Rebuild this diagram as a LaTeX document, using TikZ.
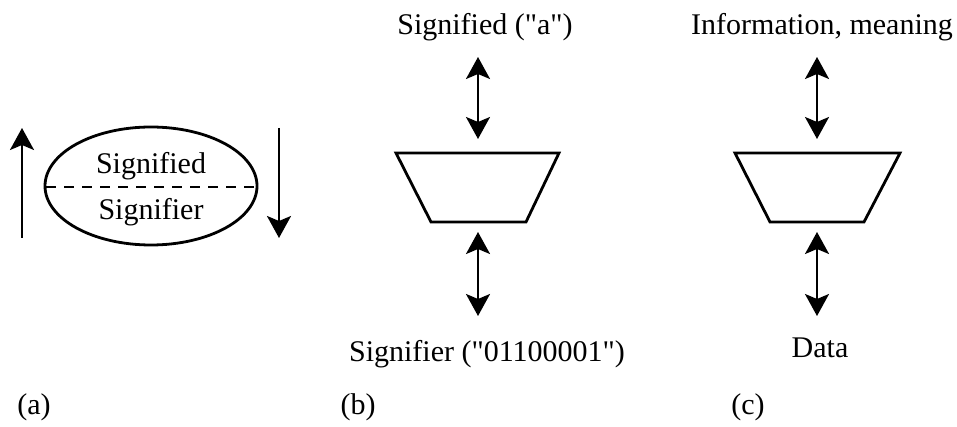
\documentclass[tikz,border=0pt]{standalone}
\usepackage{fontspec}
\setmainfont{Liberation Serif}[Ligatures=TeXOff]
\usetikzlibrary{arrows.meta}
\begin{document}
\begin{tikzpicture}[x=1pt,y=-1pt,
  lbl/.style={font=\fontsize{30}{36}\selectfont, inner sep=0pt},
  shp/.style={draw=black, line width=2.8pt, line join=miter},
  tip/.tip={Stealth[length=22pt,width=24pt,inset=5pt]},
  arr/.style={line width=2.2pt, -tip},
  darr/.style={line width=2.2pt, tip-tip}]
\useasboundingbox (0,0) rectangle (957,427);
% (a)
\draw[shp] (151,186) ellipse [x radius=106pt, y radius=59pt];
\draw[line width=2.2pt, dash pattern=on 10pt off 8pt] (46,187) -- (256,187);
\node[lbl] (sd) at (151,166) {Signified};
\node[lbl] (sr) at (151,212) {Signifier};
\coordinate (la0) at (22,238);
\coordinate (la1) at (22,128);
\coordinate (ra0) at (279,128);
\coordinate (ra1) at (279,238);
\draw[arr] (la0) -- (la1);
\draw[arr] (ra0) -- (ra1);
\node[lbl] (pa) at (34,407) {(a)};
% (b)
\node[lbl] (bt) at (485,27) {Signified ("a")};
\node[lbl] (bb) at (487,354) {Signifier ("01100001")};
\draw[shp] (396,153) -- (559,153) -- (526,222) -- (431,222) -- cycle;
\coordinate (b1) at (478,57);
\coordinate (b2) at (478,139);
\coordinate (b3) at (478,232);
\coordinate (b4) at (478,316);
\draw[darr] (b1) -- (b2);
\draw[darr] (b3) -- (b4);
\node[lbl] (pb) at (358,407) {(b)};
% (c)
\node[lbl] (ct) at (822,27) {Information, meaning};
\node[lbl] (cb) at (820,348) {Data};
\draw[shp] (735,153) -- (900,153) -- (864,222) -- (770,222) -- cycle;
\coordinate (c1) at (817,57);
\coordinate (c2) at (817,139);
\coordinate (c3) at (817,232);
\coordinate (c4) at (817,316);
\draw[darr] (c1) -- (c2);
\draw[darr] (c3) -- (c4);
\node[lbl] (pc) at (748,407) {(c)};
\end{tikzpicture}
\end{document}
